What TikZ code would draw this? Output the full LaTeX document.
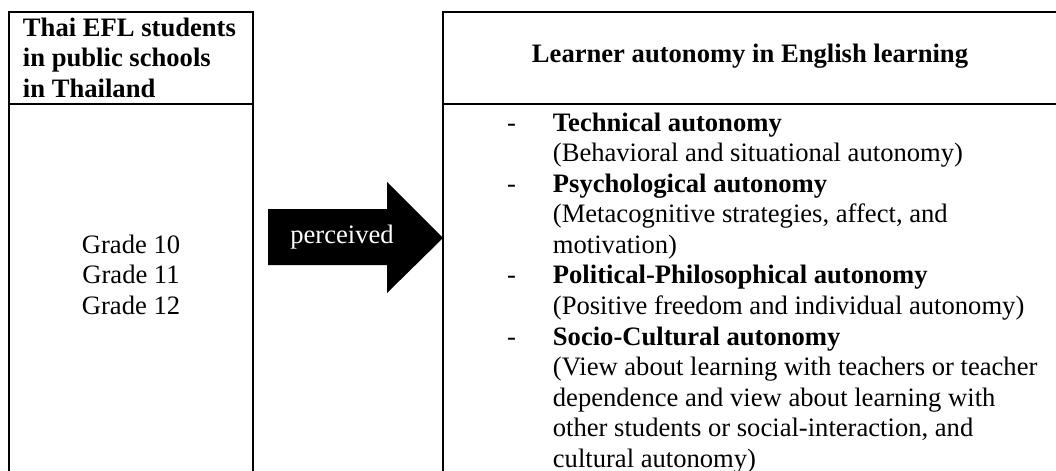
\documentclass[tikz,border=0pt]{standalone}
\usepackage{fontspec}
\setmainfont{Liberation Serif}
\usetikzlibrary{positioning}

\begin{document}
\begin{tikzpicture}[x=0.451pt,y=-0.451pt]
\tikzset{
  frame/.style={line width=1pt},
  txt/.style={font=\fontsize{12}{13.8}\selectfont, inner sep=0pt, outer sep=0pt}
}
\useasboundingbox (0,0) rectangle (1056,470);
\clip (0,0) rectangle (1056,470);

\coordinate (A) at (9,12);
\coordinate (B) at (253,520);
\coordinate (C) at (443,12);
\coordinate (D) at (1090,520);

% the two frames
\draw[frame] (A) rectangle (B);
\draw[frame] (9,104) -- (253,104);
\draw[frame] (C) rectangle (D);
\draw[frame] (443,104) -- (1090,104);

% arrow
\fill[black] (268,209) -- (387,209) -- (387,182) -- (443,238) -- (387,293) -- (387,265) -- (268,265) -- cycle;
\node[txt, text=white, anchor=base] (perc) at (342,243) {perceived};

\node[txt, anchor=base west] (students) at (23,36)
  {\begin{tabular}[t]{@{}l@{}}\bfseries Thai EFL students\\ \bfseries in public schools\\ \bfseries in Thailand\end{tabular}};
\node[txt, anchor=base] (grades) at (131,253)
  {\begin{tabular}[t]{@{}c@{}}Grade 10\\ Grade 11\\ Grade 12\end{tabular}};

\node[txt, anchor=base, font=\fontsize{12}{13.8}\selectfont\bfseries] (autonomy) at (750,62) {Learner autonomy in English learning};

\node[txt, anchor=base west] (items) at (507,131)
  {\begin{tabular}[t]{@{}p{20.7pt}@{}l@{}}
  - & \textbf{Technical autonomy}\\
    & (Behavioral and situational autonomy)\\
  - & \textbf{Psychological autonomy}\\
    & (Metacognitive strategies, affect, and\\
    & motivation)\\
  - & \textbf{Political-Philosophical autonomy}\\
    & (Positive freedom and individual autonomy)\\
  - & \textbf{Socio-Cultural autonomy}\\
    & (View about learning with teachers or teacher\\
    & dependence and view about learning with\\
    & other students or social-interaction, and\\
    & cultural autonomy)
  \end{tabular}};
\end{tikzpicture}
\end{document}
